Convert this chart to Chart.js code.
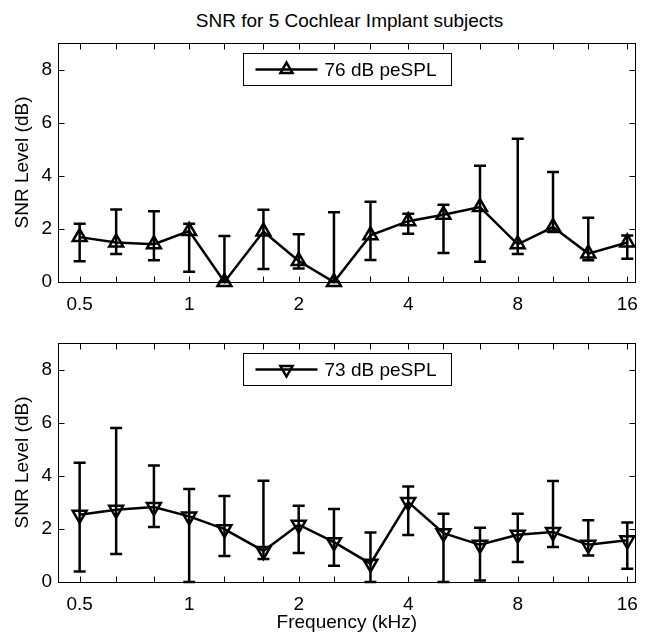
<!DOCTYPE html>
<html>
<head>
<meta charset="utf-8">
<script src="https://cdn.jsdelivr.net/npm/chart.js@4.4.1/dist/chart.umd.min.js"></script>
<style>
  body { margin: 0; background: #fff; width: 649px; height: 632px; position: relative; overflow: hidden;
         font-family: "Liberation Sans", Arial, sans-serif; }
  #title { position: absolute; left: 51px; width: 597px; top: 11px; text-align: center;
           font-size: 19px; line-height: 19px; color: #000; }
  canvas { position: absolute; left: 0; }
</style>
</head>
<body>
<div id="title">SNR for 5 Cochlear Implant subjects</div>
<canvas id="top" width="649" height="316" style="top:0"></canvas>
<canvas id="bottom" width="649" height="316" style="top:316px"></canvas>
<script>
// 1/3 octave centre frequencies (kHz)
const freqs = [0.5, 0.63, 0.8, 1, 1.25, 1.6, 2, 2.5, 3.15, 4, 5, 6.3, 8, 10, 12.5, 16];
const xLabelValues = [0.5, 1, 2, 4, 8, 16];
const yTicks = [0, 2, 4, 6, 8];

// 76 dB peSPL
const snr76 = [1.69, 1.49, 1.42, 1.92, 0, 1.9, 0.79, 0, 1.76, 2.29, 2.53, 2.82, 1.42, 2.07, 1.07, 1.49];
const hi76  = [2.19, 2.73, 2.66, 2.19, 1.73, 2.72, 1.8, 2.63, 3.02, 2.57, 2.91, 4.38, 5.39, 4.14, 2.42, 1.75];
const lo76  = [0.78, 1.05, 0.82, 0.39, 0, 0.49, 0.51, 0, 0.83, 1.82, 1.09, 0.76, 1.05, 1.88, 0.82, 0.88];

// 73 dB peSPL
const snr73 = [2.53, 2.72, 2.82, 2.47, 1.99, 1.17, 2.16, 1.5, 0.69, 3.01, 1.84, 1.4, 1.78, 1.88, 1.4, 1.57];
const hi73  = [4.49, 5.8, 4.39, 3.5, 3.24, 3.81, 2.87, 2.75, 1.86, 3.6, 2.57, 2.04, 2.57, 3.8, 2.33, 2.24];
const lo73  = [0.4, 1.05, 2.07, 0, 0.98, 0.87, 1.09, 0.61, 0, 1.77, 0, 0.06, 0.75, 1.32, 1.0, 0.5];

const FONT = '"Liberation Sans", Arial, sans-serif';

// error bars, box frame, inward ticks and the boxed legend
const matlabLook = {
  id: 'matlabLook',
  afterDatasetsDraw(chart, args, opts) {
    const { ctx, chartArea: a, scales: { x, y } } = chart;
    ctx.save();
    ctx.strokeStyle = '#000';
    ctx.lineWidth = 2.5;
    opts.hi.forEach((h, i) => {
      const px = x.getPixelForValue(freqs[i]);
      const t = y.getPixelForValue(h), b = y.getPixelForValue(opts.lo[i]);
      ctx.beginPath();
      ctx.moveTo(px, t); ctx.lineTo(px, b);
      ctx.moveTo(px - 6, t); ctx.lineTo(px + 6, t);
      ctx.moveTo(px - 6, b); ctx.lineTo(px + 6, b);
      ctx.stroke();
    });

    // frame
    ctx.lineWidth = 1;
    const L = Math.round(a.left) + 0.5, R = Math.round(a.right) - 0.5;
    const T = Math.round(a.top) + 0.5, B = Math.round(a.bottom) + 0.5;
    ctx.strokeRect(L, T, R - L, B - T);
    ctx.beginPath();
    freqs.forEach(f => {
      const px = Math.round(x.getPixelForValue(f)) + 0.5;
      ctx.moveTo(px, B); ctx.lineTo(px, B - 6);
      ctx.moveTo(px, T); ctx.lineTo(px, T + 6);
    });
    yTicks.forEach(v => {
      const py = Math.round(y.getPixelForValue(v)) + 0.5;
      ctx.moveTo(L, py); ctx.lineTo(L + 6, py);
      ctx.moveTo(R, py); ctx.lineTo(R - 6, py);
    });
    ctx.stroke();

    // legend
    ctx.font = '19px ' + FONT;
    const tw = ctx.measureText(opts.label).width;
    const w = 12 + 62 + 8 + tw + 14, h = 32;
    const bx = Math.round((a.left + a.right) / 2 - w / 2) + 0.5;
    const by = Math.round(a.top) + 10.5;
    ctx.fillStyle = '#fff';
    ctx.fillRect(bx, by, w, h);
    ctx.strokeRect(bx, by, w, h);
    const ly = by + h / 2;
    ctx.lineWidth = 2.5;
    ctx.beginPath();
    ctx.moveTo(bx + 12, ly); ctx.lineTo(bx + 74, ly);
    ctx.stroke();
    ctx.fillStyle = 'rgba(0,0,0,0)';
    Chart.helpers.drawPoint(ctx, { pointStyle: 'triangle', radius: 7, rotation: opts.rot, borderWidth: 2.5 }, bx + 43, ly);
    ctx.fillStyle = '#000';
    ctx.textBaseline = 'middle';
    ctx.textAlign = 'left';
    ctx.fillText(opts.label, bx + 81, ly + 1);
    ctx.restore();
  }
};

function makePanel(id, values, hi, lo, label, rot, axisH, padTop, xTitle) {
  return new Chart(document.getElementById(id), {
    type: 'line',
    data: {
      datasets: [{
        label: label,
        data: freqs.map((f, i) => ({ x: f, y: values[i] })),
        borderColor: '#000',
        borderWidth: 2.5,
        pointStyle: 'triangle',
        pointRotation: rot,
        pointRadius: 8,
        pointBorderWidth: 2.5,
        pointBorderColor: '#000',
        pointBackgroundColor: 'rgba(0,0,0,0)',
        tension: 0,
        clip: false
      }]
    },
    options: {
      responsive: false,
      animation: false,
      devicePixelRatio: 1,
      layout: { padding: { left: 0, right: 3, top: padTop, bottom: 0 } },
      plugins: {
        legend: { display: false },
        tooltip: { enabled: false },
        matlabLook: { hi: hi, lo: lo, label: label, rot: rot }
      },
      scales: {
        x: {
          type: 'logarithmic',
          min: 0.436,
          max: 16.87,
          grid: { display: false, drawTicks: false },
          border: { display: false },
          afterBuildTicks: s => { s.ticks = freqs.map(v => ({ value: v })); },
          afterFit: s => { s.height = axisH; },
          ticks: {
            autoSkip: false,
            maxRotation: 0,
            padding: 11,
            color: '#000',
            font: { family: FONT, size: 19 },
            callback: v => xLabelValues.includes(v) ? String(v) : ''
          },
          title: {
            display: xTitle,
            text: 'Frequency (kHz)',
            color: '#000',
            font: { family: FONT, size: 19, lineHeight: 1 },
            padding: { top: 0, bottom: 0 }
          }
        },
        y: {
          min: 0,
          max: 9,
          grid: { display: false, drawTicks: false },
          border: { display: false },
          afterBuildTicks: s => { s.ticks = yTicks.map(v => ({ value: v })); },
          afterFit: s => { s.width = 58; },
          ticks: {
            padding: 6,
            color: '#000',
            font: { family: FONT, size: 19 }
          },
          title: {
            display: true,
            text: 'SNR Level (dB)',
            color: '#000',
            font: { family: FONT, size: 19 },
            padding: { top: 11, bottom: 0 }
          }
        }
      }
    },
    plugins: [matlabLook]
  });
}

makePanel('top', snr76, hi76, lo76, '76 dB peSPL', 0, 34, 43, false);
makePanel('bottom', snr73, hi73, lo73, '73 dB peSPL', 180, 50, 27, true);
</script>
</body>
</html>
